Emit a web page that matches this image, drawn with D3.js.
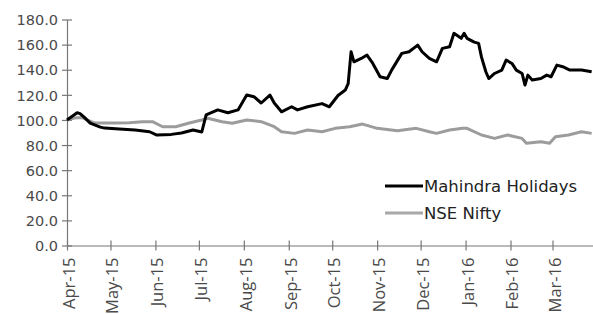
<!DOCTYPE html>
<html>
<head>
<meta charset="utf-8">
<script src="https://cdn.jsdelivr.net/npm/d3@7"></script>
<style>
  html, body { margin: 0; padding: 0; background: #fff; }
  svg { display: block; }
</style>
</head>
<body>
<script>
// ---- data ----
const holidaysDates = ["2015-04-01","2015-04-08","2015-04-10","2015-04-13","2015-04-17","2015-04-24","2015-04-27","2015-05-07","2015-05-18","2015-05-28","2015-06-02","2015-06-12","2015-06-19","2015-06-27","2015-07-03","2015-07-06","2015-07-14","2015-07-21","2015-07-28","2015-08-03","2015-08-08","2015-08-13","2015-08-19","2015-08-22","2015-08-27","2015-09-03","2015-09-07","2015-09-14","2015-09-24","2015-09-29","2015-10-05","2015-10-10","2015-10-12","2015-10-14","2015-10-16","2015-10-21","2015-10-25","2015-10-29","2015-11-03","2015-11-08","2015-11-11","2015-11-18","2015-11-23","2015-11-29","2015-12-02","2015-12-07","2015-12-12","2015-12-16","2015-12-21","2015-12-24","2015-12-29","2015-12-31","2016-01-02","2016-01-07","2016-01-10","2016-01-12","2016-01-15","2016-01-17","2016-01-21","2016-01-26","2016-01-29","2016-02-02","2016-02-05","2016-02-09","2016-02-11","2016-02-13","2016-02-16","2016-02-22","2016-02-26","2016-02-29","2016-03-04","2016-03-08","2016-03-13","2016-03-21","2016-03-28"];
const holidaysValues = [100,105.7,105,102,97.5,94.3,93.5,92.8,92,90.6,88,88.5,89.6,92,90.4,104,108,105.7,108,119.8,118.5,113.5,119.8,113.5,106.5,110.5,108,110.5,113,110.5,119.5,123.8,129,154.3,146.3,149,151.7,145,134.4,133,139.7,153,154.3,159.6,154.3,149,146.3,157,158.3,169,165,169,165,162,161,150,138.4,133,137,139.7,147.7,145,139.7,137,127.8,135.7,131.8,133,135.7,134.4,143.7,142.4,139.7,139.7,138.4];

const niftyDates = ["2015-04-01","2015-04-06","2015-04-11","2015-04-20","2015-05-04","2015-05-14","2015-05-23","2015-05-30","2015-06-06","2015-06-15","2015-06-25","2015-07-03","2015-07-07","2015-07-17","2015-07-24","2015-08-03","2015-08-13","2015-08-22","2015-08-27","2015-09-05","2015-09-14","2015-09-24","2015-10-03","2015-10-13","2015-10-22","2015-11-01","2015-11-15","2015-11-28","2015-12-07","2015-12-12","2015-12-21","2015-12-30","2016-01-02","2016-01-12","2016-01-21","2016-01-30","2016-02-09","2016-02-12","2016-02-22","2016-02-28","2016-03-03","2016-03-12","2016-03-21","2016-03-28"];
const niftyValues = [100,101.5,102,97.5,97.5,97.8,98.6,98.6,94.6,94.6,97.8,100,101.3,98.6,97.3,100,98.6,94.6,90.6,89.3,92,90.6,93.3,94.6,96.7,93.3,91.4,93.3,90.6,89.3,92,93.3,93.3,88,85.3,88,85.3,81.4,82.6,81.4,86.6,88,90.6,89.3];

const seriesNames = ["Mahindra Holidays", "NSE Nifty"];
const yTicks = [0,20,40,60,80,100,120,140,160,180];
const xTickDates = ["2015-04-01","2015-05-01","2015-06-01","2015-07-01","2015-08-01","2015-09-01","2015-10-01","2015-11-01","2015-12-01","2016-01-01","2016-02-01","2016-03-01"];
const xTickLabels = ["Apr-15","May-15","Jun-15","Jul-15","Aug-15","Sep-15","Oct-15","Nov-15","Dec-15","Jan-16","Feb-16","Mar-16"];

// ---- chart ----
const W = 593, H = 314;
const parse = d3.timeParse("%Y-%m-%d");
const svg = d3.select("body").append("svg").attr("width", W).attr("height", H);

const x = d3.scaleTime().domain([parse("2015-04-01"), parse("2016-03-31")]).range([67, 596]);
const y = d3.scaleLinear().domain([0, 180]).range([245.5, 19.5]);

const axisColor = "#777";
const textColor = "#4a4a4a";

// y axis
const yAxis = svg.append("g").attr("transform", "translate(67,0)")
  .call(d3.axisLeft(y).tickValues(yTicks).tickFormat(d3.format(".1f")).tickSizeOuter(0));
yAxis.select(".domain").attr("stroke", axisColor).attr("stroke-width", 1.2);
yAxis.selectAll(".tick line").attr("x1", -5).attr("x2", 5).attr("stroke", axisColor).attr("stroke-width", 1.2);
yAxis.selectAll(".tick text").attr("x", -9).attr("dy", "0.36em")
  .attr("font-family", "DejaVu Sans").attr("font-size", 14.5).attr("fill", textColor);

// x axis
const tickDates = xTickDates.map(parse);
const xAxis = svg.append("g").attr("transform", "translate(0," + y(0) + ")")
  .call(d3.axisBottom(x).tickValues(tickDates).tickFormat((d, i) => xTickLabels[i]).tickSizeOuter(0));
xAxis.select(".domain").attr("stroke", axisColor).attr("stroke-width", 1.2);
xAxis.selectAll(".tick line").attr("y1", -5).attr("y2", 5).attr("stroke", axisColor).attr("stroke-width", 1.2);
xAxis.selectAll(".tick text")
  .attr("y", 0).attr("dy", 0)
  .attr("transform", "translate(1,12) rotate(-90)")
  .attr("text-anchor", "end").attr("dominant-baseline", "central")
  .attr("font-family", "Open Sans").attr("font-size", 16.5).attr("fill", textColor);

// lines
const line = d3.line().x(d => x(d.date)).y(d => y(d.value));
const nifty = niftyDates.map((d, i) => ({ date: parse(d), value: niftyValues[i] }));
const hol = holidaysDates.map((d, i) => ({ date: parse(d), value: holidaysValues[i] }));

svg.append("path").datum(nifty).attr("d", line)
  .attr("fill", "none").attr("stroke", "#9c9c9c").attr("stroke-width", 3)
  .attr("stroke-linejoin", "round");
svg.append("path").datum(hol).attr("d", line)
  .attr("fill", "none").attr("stroke", "#000").attr("stroke-width", 3)
  .attr("stroke-linejoin", "round");

// legend
const legend = svg.append("g");
const legendColors = ["#000", "#a8a8a8"];
const legendY = [186, 213];
seriesNames.forEach((name, i) => {
  legend.append("line").attr("x1", 385).attr("x2", 423).attr("y1", legendY[i]).attr("y2", legendY[i])
    .attr("stroke", legendColors[i]).attr("stroke-width", 3);
  legend.append("text").attr("x", 424).attr("y", legendY[i]).attr("dy", "0.36em")
    .attr("font-family", "DejaVu Sans").attr("font-size", 16.5).attr("fill", "#222")
    .text(name);
});
</script>
</body>
</html>
